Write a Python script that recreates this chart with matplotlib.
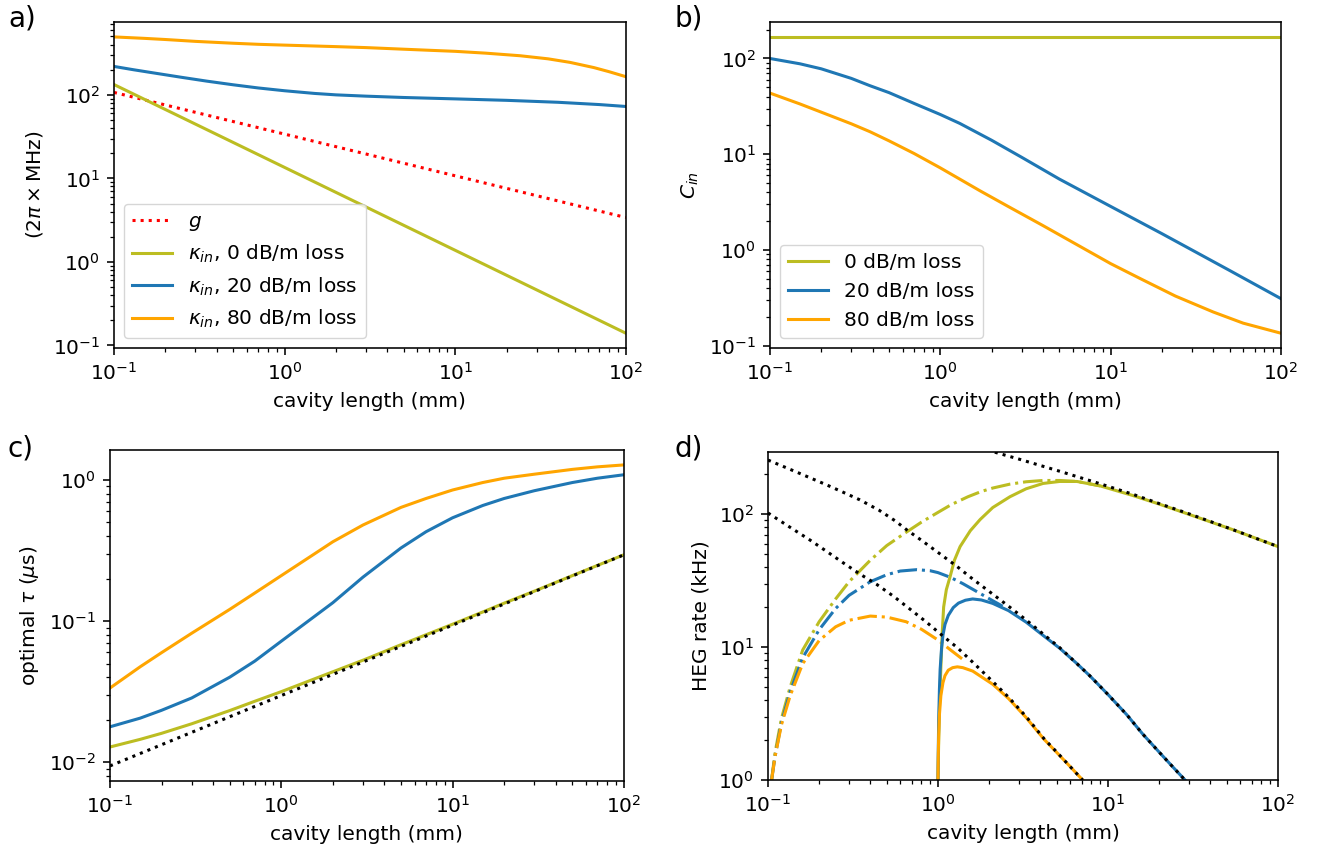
import numpy as np
import matplotlib
matplotlib.use("Agg")
import matplotlib.pyplot as plt

plt.rcParams['font.size'] = 14.5
plt.rcParams['axes.linewidth'] = 1.15
plt.rcParams['axes.labelpad'] = 5.8
plt.rcParams['xtick.major.size'] = 5
plt.rcParams['ytick.major.size'] = 5
plt.rcParams['xtick.minor.size'] = 2.8
plt.rcParams['ytick.minor.size'] = 2.8
plt.rcParams['xtick.major.width'] = 1.15
plt.rcParams['ytick.major.width'] = 1.15
plt.rcParams['xtick.minor.width'] = 0.9
plt.rcParams['ytick.minor.width'] = 0.9
plt.rcParams['xtick.major.pad'] = 5
plt.rcParams['ytick.major.pad'] = 5
plt.rcParams['xtick.minor.pad'] = 5
plt.rcParams['ytick.minor.pad'] = 5

OLIVE = '#bcbd22'
BLUE = '#1f77b4'
ORANGE = 'orange'
LW = 2.2

# ---- panel a: rates (2pi x MHz) vs cavity length
a_x_line = [0.1, 100]
a_g = [107, 3.4]
a_kin0 = [133, 0.14]
a_x = [0.1, 0.13, 0.18, 0.25, 0.35, 0.5, 0.7, 1.0, 1.5, 2, 3, 5, 10, 20, 40, 70, 100]
a_kin20 = [219, 200, 180, 162, 146, 132, 121, 112, 104, 100, 96.5, 93, 89.5, 86, 81.5, 76.5, 72.6]
a_x80 = [0.1, 0.15, 0.2, 0.3, 0.5, 0.7, 1, 2, 3, 5, 7, 10, 15, 24, 35, 47, 65, 80, 100]
a_kin80 = [494, 475, 460, 437, 415, 403, 394, 378, 368, 352, 342, 332, 316, 294, 270, 245, 212, 189, 165]

# ---- panel b: C_in
b_x_line = [0.1, 100]
b_c0 = [168, 168]
b_x = [0.1, 0.15, 0.2, 0.3, 0.386, 0.5, 0.7, 1.0, 1.3, 2, 3, 5, 10, 20, 30, 50, 100]
b_c20 = [100, 88, 78, 62, 52, 44, 34, 26, 21, 14, 9.3, 5.5, 2.85, 1.48, 1.0, 0.61, 0.31]
b_x80 = [0.1, 0.15, 0.2, 0.3, 0.386, 0.5, 0.7, 1.0, 1.3, 1.71, 2.5, 4, 6, 10, 15, 24, 40, 60, 100]
b_c80 = [43.5, 33.5, 27.5, 20.8, 17.2, 13.8, 10.2, 7.2, 5.5, 4.15, 2.85, 1.8, 1.2, 0.72, 0.5, 0.33, 0.225, 0.172, 0.135]

# ---- panel c: optimal tau (us)
c_x_line = [0.1, 100]
c_dot = [0.0094, 0.295]
c_x = [0.1, 0.15, 0.2, 0.3, 0.5, 0.7, 1.0, 1.5, 2, 3, 5, 7, 10, 15, 20, 30, 50, 70, 100]
c_t0 = [0.0128, 0.0145, 0.016, 0.0187, 0.0232, 0.027, 0.0316, 0.0382, 0.0437, 0.0528, 0.068, 0.08, 0.095, 0.116, 0.134, 0.163, 0.21, 0.248, 0.295]
c_t20 = [0.0178, 0.0205, 0.0233, 0.0285, 0.040, 0.052, 0.072, 0.104, 0.135, 0.205, 0.33, 0.43, 0.54, 0.66, 0.74, 0.84, 0.96, 1.03, 1.09]
c_t80 = [0.0335, 0.0474, 0.0597, 0.082, 0.121, 0.158, 0.21, 0.29, 0.365, 0.48, 0.64, 0.74, 0.85, 0.96, 1.03, 1.1, 1.19, 1.24, 1.28]

# ---- panel d: HEG rate (kHz)
d_asym0_x = [2.16, 3.0, 5.2, 9.0, 14, 20, 29, 40, 54, 75, 100]
d_asym0 = [292, 259, 210, 169, 141, 120, 102, 88, 76.6, 65.4, 57]
d_asym20_x = [0.1, 0.15, 0.221, 0.28, 0.347, 0.45, 0.56, 0.656, 0.8, 1.0, 1.29, 1.6, 2.1, 2.6, 3.3, 4.2, 5.2, 6.5, 7.8, 10, 12.9, 16, 20.2, 24, 28.4]
d_asym20 = [255, 205, 166, 145, 128, 107, 89, 76, 63.5, 51.5, 40.5, 32.5, 25, 20.3, 16.0, 12.4, 9.9, 7.6, 6.1, 4.4, 3.1, 2.22, 1.6, 1.26, 1.0]
d_asym80_x = [0.1, 0.13, 0.176, 0.221, 0.277, 0.35, 0.436, 0.55, 0.684, 0.85, 1.07, 1.3, 1.6, 2.1, 2.6, 3.3, 4.2, 5.0, 6.0, 7.1]
d_asym80 = [102, 82, 64, 52.5, 43, 35.2, 29.6, 24, 19.3, 15.5, 12.1, 9.9, 7.7, 5.5, 4.2, 3.0, 2.05, 1.62, 1.26, 1.0]

d_dd_x = [0.105, 0.11, 0.12, 0.135, 0.16, 0.2, 0.25, 0.3, 0.4, 0.5, 0.65, 0.8, 1.0, 1.2, 1.5, 1.8, 2.1, 2.65, 3.3, 4.15, 5.2, 6.57, 9.0]
d_dd0 = [1.0, 1.6, 2.9, 5.0, 9.5, 15.5, 23, 31, 45, 58, 73, 87, 103, 118, 135, 148, 157, 168, 175, 179, 179, 176, 163]
d_dd20_x = [0.105, 0.11, 0.12, 0.135, 0.16, 0.2, 0.25, 0.3, 0.4, 0.5, 0.6, 0.75, 0.9, 1.0, 1.18, 1.4, 1.77, 2.1, 2.4]
d_dd20 = [1.0, 1.5, 2.7, 4.6, 8.3, 13.5, 19.5, 24.5, 31, 35, 37.3, 38.2, 37.5, 36.3, 33.5, 30, 25.3, 22.3, 20.3]
d_dd80_x = [0.105, 0.11, 0.12, 0.135, 0.16, 0.2, 0.25, 0.3, 0.4, 0.5, 0.65, 0.8, 1.0, 1.2, 1.45]
d_dd80 = [1.0, 1.5, 2.6, 4.3, 7.5, 11.2, 14.2, 15.9, 17.1, 16.8, 15.5, 13.6, 11.3, 9.4, 7.8]

d_s0_x = [1.0, 1.01, 1.02, 1.04, 1.06, 1.08, 1.12, 1.18, 1.25, 1.35, 1.55, 1.77, 2.1, 2.65, 3.3, 4.15, 5.2, 6.57, 9.0, 14, 20, 29, 40, 54, 75, 100]
d_s0 = [1.0, 2.0, 3.5, 7.0, 13, 20, 27, 34, 45, 57, 75, 91, 112, 135, 155, 170, 176, 176, 163, 138, 119, 101, 87.5, 76.5, 65.4, 57]
d_s20_x = [1.0, 1.005, 1.01, 1.02, 1.03, 1.05, 1.07, 1.1, 1.15, 1.23, 1.32, 1.45, 1.6, 1.8, 2.1, 2.6, 3.3, 4.2, 5.2, 6.5, 7.8, 10, 12.9, 16, 20.2, 24, 28.4]
d_s20 = [1.0, 1.8, 2.8, 4.8, 6.8, 9.8, 12.3, 14.8, 17.3, 19.8, 21.4, 22.5, 23.0, 22.6, 21.3, 18.8, 15.4, 12.1, 9.8, 7.6, 6.1, 4.4, 3.1, 2.22, 1.6, 1.26, 1.0]
d_s80_x = [1.0, 1.005, 1.01, 1.02, 1.04, 1.07, 1.1, 1.15, 1.22, 1.3, 1.4, 1.6, 2.1, 2.6, 3.3, 4.2, 5.0, 6.0, 7.1]
d_s80 = [1.0, 1.6, 2.2, 3.1, 4.3, 5.4, 6.1, 6.7, 7.0, 7.1, 7.0, 6.6, 5.25, 4.1, 2.95, 2.03, 1.61, 1.26, 1.0]

fig = plt.figure(figsize=(13.28, 8.6), dpi=100)
ax_a = fig.add_axes([0.0858, 0.5953, 0.3855, 0.379])
ax_b = fig.add_axes([0.5798, 0.5953, 0.3848, 0.379])
ax_c = fig.add_axes([0.0828, 0.0919, 0.3870, 0.385])
ax_d = fig.add_axes([0.5783, 0.0930, 0.3840, 0.3814])

# a)
ax_a.plot(a_x_line, a_g, ':', color='red', lw=LW, label='$g$')
ax_a.plot(a_x_line, a_kin0, color=OLIVE, lw=LW, label=r'$\kappa_{in}$, 0 dB/m loss')
ax_a.plot(a_x, a_kin20, color=BLUE, lw=LW, label=r'$\kappa_{in}$, 20 dB/m loss')
ax_a.plot(a_x80, a_kin80, color=ORANGE, lw=LW, label=r'$\kappa_{in}$, 80 dB/m loss')
ax_a.set_ylabel(r'$(2\pi \times \mathrm{MHz})$')
ax_a.legend(loc='lower left')

# b)
ax_b.plot(b_x_line, b_c0, color=OLIVE, lw=LW, label='0 dB/m loss')
ax_b.plot(b_x, b_c20, color=BLUE, lw=LW, label='20 dB/m loss')
ax_b.plot(b_x80, b_c80, color=ORANGE, lw=LW, label='80 dB/m loss')
ax_b.set_ylabel('$C_{in}$')
ax_b.legend(loc='lower left')

# c)
ax_c.plot(c_x, c_t0, color=OLIVE, lw=LW)
ax_c.plot(c_x, c_t20, color=BLUE, lw=LW)
ax_c.plot(c_x, c_t80, color=ORANGE, lw=LW)
ax_c.plot(c_x_line, c_dot, ':', color='black', lw=LW)
ax_c.set_ylabel(r'optimal $\tau$ ($\mu$s)')

# d)
ax_d.plot(d_dd_x, d_dd0, '-.', color=OLIVE, lw=LW)
ax_d.plot(d_dd20_x, d_dd20, '-.', color=BLUE, lw=LW)
ax_d.plot(d_dd80_x, d_dd80, '-.', color=ORANGE, lw=LW)
ax_d.plot(d_s0_x, d_s0, color=OLIVE, lw=LW)
ax_d.plot(d_s20_x, d_s20, color=BLUE, lw=LW)
ax_d.plot(d_s80_x, d_s80, color=ORANGE, lw=LW)
ax_d.plot(d_asym0_x, d_asym0, ':', color='black', lw=LW)
ax_d.plot(d_asym20_x, d_asym20, ':', color='black', lw=LW)
ax_d.plot(d_asym80_x, d_asym80, ':', color='black', lw=LW)
ax_d.set_ylabel('HEG rate (kHz)')
ax_d.set_ylim(1, 293)

for ax in [ax_a, ax_b, ax_c, ax_d]:
    ax.set_xscale('log')
    ax.set_yscale('log')
    ax.set_xlim(0.1, 100)
    ax.set_xlabel('cavity length (mm)')

fig.text(0.006, 0.995, 'a)', fontsize=20, va='top')
fig.text(0.508, 0.995, 'b)', fontsize=20, va='top')
fig.text(0.006, 0.495, 'c)', fontsize=20, va='top')
fig.text(0.508, 0.495, 'd)', fontsize=20, va='top')

fig.savefig('out.png', dpi=100)
